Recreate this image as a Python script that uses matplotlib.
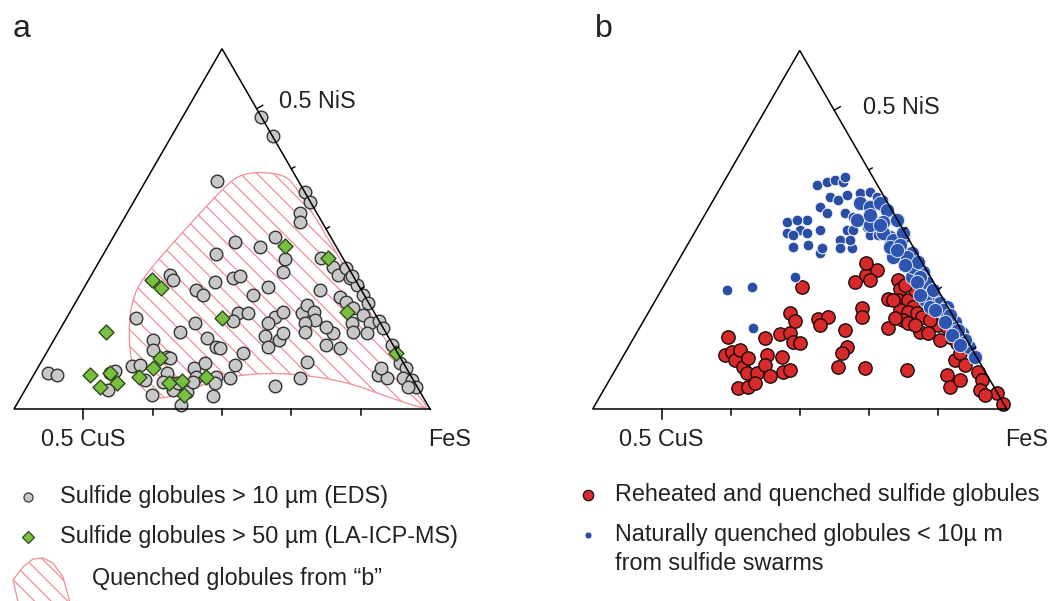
import numpy as np
import matplotlib.pyplot as plt
from matplotlib.lines import Line2D
from matplotlib.patches import Polygon

plt.rcParams['font.family'] = ['Liberation Sans', 'DejaVu Sans']
plt.rcParams['hatch.linewidth'] = 0.9

# compositions in mol% CuS and NiS, FeS is the remainder
# (a) sulfide globules > 10 um, EDS
gray_cu = [0.0, 0.0, 11.8, 0.0, 0.0, 2.5, 3.2, 8.0, 14.2, 11.0,
           17.9, 8.4, 9.7, 3.1, 2.1, 2.1, 0.3, 0.6, 0.2, 0.1,
           0.1, 3.6, 3.1, 6.0, 26.4, 26.3, 20.5, 17.5, 16.4, 13.2,
           23.8, 23.2, 16.0, 34.8, 19.7, 18.2, 21.1, 14.7, 13.1, 10.5,
           9.1, 8.7, 9.2, 2.7, 1.8, 1.5, 4.1, 0.1, 0.0, 7.7,
           8.1, 4.6, 2.8, 26.8, 29.6, 26.3, 25.6, 25.2, 22.3, 16.2,
           17.8, 18.1, 16.1, 14.9, 10.9, 11.6, 9.6, 7.9, 13.8, 34.2,
           35.0, 39.5, 38.2, 33.6, 35.0, 34.9, 30.7, 28.7, 31.0, 28.1,
           26.3, 30.2, 33.6, 35.5, 39.0, 35.4, 20.5, 16.2, 4.6, 3.7,
           3.6, 0.1, 0.5, 0.1, 1.3, 0.2, 0.1, 1.3, 52.1, 51.0,
           44.8, 24.5, 0.2, 33.3, 43.2, 42.3, 38.7, 36.3, 34.2, 31.9,
           28.9]
gray_ni = [48.7, 45.4, 37.9, 36.2, 34.5, 32.6, 31.2, 28.7, 27.8, 27.0,
           25.8, 25.0, 22.9, 25.1, 23.7, 22.3, 23.5, 21.8, 20.7, 19.0,
           17.7, 18.7, 17.9, 19.8, 22.3, 21.5, 21.1, 21.8, 22.1, 20.3,
           19.8, 19.0, 19.0, 15.1, 16.0, 16.0, 14.6, 15.4, 16.2, 16.0,
           17.3, 16.2, 14.8, 16.8, 15.7, 14.3, 14.3, 14.6, 13.5, 12.6,
           13.7, 12.9, 12.6, 14.3, 12.9, 11.8, 10.4, 10.1, 9.3, 14.3,
           12.1, 10.4, 11.5, 12.6, 14.3, 12.9, 10.7, 10.1, 7.9, 11.5,
           9.8, 7.1, 7.3, 8.7, 6.0, 4.3, 6.8, 7.6, 5.4, 5.4,
           5.1, 2.2, 2.9, 0.7, 2.3, 3.2, 3.8, 5.1, 5.7, 5.1,
           6.8, 10.7, 7.6, 6.8, 5.2, 4.8, 3.7, 3.7, 6.0, 5.7,
           3.2, 7.3, 22.1, 8.5, 6.0, 6.3, 4.8, 4.5, 4.3, 4.5,
           4.3]

# (a) sulfide globules > 50 um, LA-ICP-MS
green_cu = [7.4, 2.1, 29.4, 28.7, 22.4, 3.9, 40.3, 0.2, 34.7, 36.5,
            46.2, 43.1, 43.0, 45.8, 39.3, 35.4, 33.4, 34.3, 29.6]
green_ni = [27.1, 25.1, 21.5, 20.1, 15.1, 16.2, 12.8, 9.3, 8.5, 6.8,
            5.6, 6.0, 4.3, 3.7, 5.4, 4.4, 4.7, 2.3, 5.3]

# (a) outline of the quenched globules field from (b)
field_cu = [4.8, 1.7, 0.9, 0.5, 0.5, 0.7, 1.0, 0.0, 1.7, 5.6, 9.4, 13.7, 18.7,
            24.6, 30.0, 35.4, 38.6, 40.0, 39.5, 37.2, 33.9, 30.3, 24.7, 16.9, 10.7, 7.9]
field_ni = [39.5, 39.0, 37.7, 30.0, 20.0, 10.0, 4.0, 0.0, 0.4, 2.3, 4.3, 5.4, 6.0,
            5.7, 4.3, 2.3, 1.6, 3.7, 7.0, 12.6, 18.2, 22.0, 26.5, 32.6, 37.3, 39.0]

# (b) reheated and quenched sulfide globules
red_cu = [34.4, 36.3, 35.0, 35.3, 33.7, 34.7, 34.6, 37.2, 35.7, 33.2,
          29.1, 30.2, 31.4, 31.5, 28.2, 29.3, 28.1, 26.6, 25.1, 23.4,
          23.3, 25.4, 24.4, 19.5, 19.8, 18.2, 20.0, 16.8, 18.0, 19.2,
          20.9, 12.5, 13.3, 17.1, 11.4, 9.2, 7.2, 8.2, 10.4, 8.0,
          5.0, 5.4, 6.6, 5.2, 5.0, 7.2, 6.2, 5.0, 4.6, 7.6,
          7.1, 6.1, 11.2, 2.9, 1.8, 0.5, 2.2, 1.7, 3.4, 5.8,
          6.4, 1.1, 1.2, 2.3, 0.1, 0.1, 7.4, 3.7, 2.1, 3.3,
          2.7, 4.4, 8.6, 6.3, 5.1, 3.9, 2.4, 4.3, 2.0, 9.0,
          33.2, 34.3]
red_ni = [12.1, 9.0, 9.5, 8.2, 9.9, 7.0, 6.0, 3.5, 3.7, 6.0,
          11.9, 9.0, 7.4, 5.5, 8.7, 6.2, 6.5, 12.6, 12.7, 16.1,
          14.7, 11.2, 11.1, 20.4, 15.1, 15.4, 14.1, 13.2, 10.4, 9.4,
          7.0, 16.9, 15.4, 6.9, 21.3, 22.4, 23.3, 24.4, 13.6, 18.4,
          21.6, 20.1, 18.2, 18.2, 17.1, 16.6, 16.2, 16.1, 15.4, 14.9,
          14.4, 12.9, 6.5, 14.1, 13.7, 14.6, 12.1, 11.1, 8.2, 5.7,
          3.7, 6.2, 4.9, 3.2, 2.7, 0.9, 18.2, 14.9, 9.4, 19.9,
          18.2, 20.8, 15.2, 14.1, 12.7, 11.6, 7.4, 4.9, 2.3, 21.6,
          8.5, 4.4]

# (b) naturally quenched globules, scattered swarm
blue_cu = [8.7, 7.0, 5.7, 4.7, 4.0, 7.9, 7.0, 5.2, 3.2, 1.7,
           1.1, 0.4, 3.6, 2.7, 10.2, 9.6, 7.0, 6.2, 13.1, 15.0,
           16.2, 14.6, 17.1, 16.4, 14.2, 12.1, 8.2, 7.3, 5.0, 5.3,
           4.1, 3.0, 10.0, 8.9, 17.4, 15.1, 14.0, 13.3, 10.7, 19.6,
           26.7, 30.6, 30.0, 8.6]
blue_ni = [37.5, 38.0, 38.3, 38.0, 38.8, 35.5, 35.0, 35.8, 36.2, 36.3,
           35.5, 35.0, 34.5, 33.6, 33.8, 32.8, 32.8, 32.1, 31.6, 30.0,
           31.3, 31.6, 29.5, 29.1, 29.5, 30.0, 30.0, 30.0, 30.5, 29.1,
           29.1, 28.8, 28.3, 27.0, 27.1, 27.5, 26.1, 27.0, 27.0, 22.1,
           20.4, 19.9, 13.6, 28.3]

# (b) naturally quenched globules along the FeS-NiS join
band_cu = [4.0, 2.9, 1.1, 0.7, 5.9, 4.4, 2.3, 0.1, 2.5, 0.6,
           3.6, 0.7, 2.1, 0.7, 2.7, 1.0, 1.0, 1.0, 0.8, 2.7,
           2.6, 0.1, 0.2, 0.2, 0.3, 0.3, 3.2, 2.3, 0.3, 1.7,
           1.7, 1.5, 0.7, 0.9, 3.8, 3.4, 0.2, 0.5, 0.4, 0.6,
           1.7, 2.6, 2.7, 2.4, 3.0, 2.1, 1.7, 1.7, 1.4, 3.6,
           3.0]
band_ni = [34.5, 33.8, 34.5, 33.3, 31.6, 30.8, 31.3, 31.6, 28.8, 28.8,
           25.8, 26.1, 23.8, 22.9, 22.1, 21.1, 19.6, 18.2, 17.7, 18.2,
           17.1, 17.1, 12.7, 10.4, 8.7, 11.6, 29.5, 28.3, 29.5, 25.4,
           23.8, 22.1, 19.9, 16.6, 25.4, 27.1, 14.6, 13.2, 15.7, 24.6,
           27.5, 26.6, 24.1, 21.3, 19.1, 16.6, 14.6, 12.4, 10.7, 32.5,
           30.8]

tick_vals = [10, 20, 30, 40, 50]

W, H = 1053, 601
BASE_Y = 409          # pixel row of the FeS-CuS side, from the top
R3 = np.sqrt(3) / 2
TXT = '#222222'
PINK = '#ee8e98'


def tern(cu, ni):
    cu = np.asarray(cu, dtype=float) / 100.0
    ni = np.asarray(ni, dtype=float) / 100.0
    return 1 - cu - ni / 2, ni * R3


def chaikin(x, y, n=2):
    pts = np.column_stack([x, y])
    for _ in range(n):
        nxt = np.roll(pts, -1, axis=0)
        q = 0.75 * pts + 0.25 * nxt
        r = 0.25 * pts + 0.75 * nxt
        pts = np.column_stack([q, r]).reshape(-1, 2)
    return pts


def frame(ax, fes_px, scale, nis_off):
    pos = ax.get_position()
    x0, w = pos.x0 * W, pos.width * W
    loc = fes_px - x0
    ax.set_xlim(1 - loc / scale, 1 + (w - loc) / scale)
    ax.set_ylim(-(H - BASE_Y) / scale, BASE_Y / scale)
    ax.set_axis_off()

    tx, ty = tern([0, 60, 0, 0], [0, 0, 60, 0])
    ax.plot(tx, ty, color='k', lw=1.1, solid_joinstyle='miter', zorder=5)

    px = 1 / scale
    for v in tick_vals:
        ln = 10 if v == 50 else 6
        bx, _ = tern(v, 0)
        ax.plot([bx, bx], [0, -ln * px], color='k', lw=1.1, zorder=5)
        rx, ry = tern(0, v)
        ln = 7 if v == 50 else 4
        ax.plot([rx, rx + ln * px * 0.866], [ry, ry + ln * px * 0.5],
                color='k', lw=1.0, zorder=5)

    bx, _ = tern(50, 0)
    ax.text(bx, -31 * px, '0.5 CuS', ha='center', va='center',
            fontsize=16.8, color=TXT)
    ax.text(1 - 2 * px, -31 * px, 'FeS', ha='left', va='center',
            fontsize=16.8, color=TXT)
    rx, ry = tern(0, 50)
    ax.annotate('0.5 NiS', xy=(rx, ry), xytext=nis_off,
                textcoords='offset pixels', ha='left', va='center',
                fontsize=16.8, color=TXT)


def fxy(px, py):
    return px / W, 1 - py / H


fig = plt.figure(figsize=(W / 100, H / 100), dpi=100)
ax_a = fig.add_axes([0, 0, 0.5, 1])
ax_b = fig.add_axes([0.5, 0, 0.5, 1])

frame(ax_a, 430, 693.3, (22, 7))
frame(ax_b, 1006.7, 690.0, (29, 3))

# panel a
fx, fy = tern(field_cu, field_ni)
ring = chaikin(fx, fy)
ax_a.add_patch(Polygon(ring, closed=True, facecolor='none', edgecolor=PINK,
                       lw=0.9, hatch='\\\\', zorder=2))
gx, gy = tern(gray_cu, gray_ni)
ax_a.scatter(gx, gy, s=82, marker='o', facecolor='#c8c8c8',
             edgecolor='#333333', linewidth=1.0, zorder=3)
dx, dy = tern(green_cu, green_ni)
ax_a.scatter(dx, dy, s=58, marker='D', facecolor='#78c040',
             edgecolor='#2f4a1c', linewidth=1.0, zorder=4)

# panel b
rx, ry = tern(red_cu, red_ni)
ax_b.scatter(rx, ry, s=92, marker='o', facecolor='#d82a2a',
             edgecolor='#1a0a0a', linewidth=1.0, zorder=3)
bx, by = tern(blue_cu, blue_ni)
ax_b.scatter(bx, by, s=60, marker='o', facecolor='#2a4ea6',
             edgecolor='white', linewidth=0.7, zorder=4)
sx, sy = tern(band_cu, band_ni)
ax_b.scatter(sx, sy, s=105, marker='o', facecolor='#2d55b0',
             edgecolor='#dfe6f7', linewidth=0.7, zorder=4)

# panel letters
fig.text(*fxy(13, 37), 'a', fontsize=23, color=TXT, va='baseline')
fig.text(*fxy(595, 37), 'b', fontsize=23, color=TXT, va='baseline')

# legend of panel a
fig.add_artist(Line2D([28 / W], [1 - 497 / H], marker='o', ms=6.5,
                      mfc='#c8c8c8', mec='#3a3a3a', mew=0.9, ls='none',
                      transform=fig.transFigure))
fig.add_artist(Line2D([28 / W], [1 - 537 / H], marker='D', ms=6.5,
                      mfc='#78c040', mec='#2f4a1c', mew=0.9, ls='none',
                      transform=fig.transFigure))
fan = [(13, 580), (23, 567), (33, 559), (43, 558), (53, 563), (63, 577),
       (71, 606), (19, 606)]
fig.add_artist(Polygon([fxy(x, y) for x, y in fan], closed=True,
                       facecolor='none', edgecolor=PINK, lw=0.9,
                       hatch='\\\\', transform=fig.transFigure))
fig.text(*fxy(60, 497), 'Sulfide globules > 10 \u00b5m (EDS)',
         fontsize=16.8, color=TXT, va='center')
fig.text(*fxy(60, 537), 'Sulfide globules > 50 \u00b5m (LA-ICP-MS)',
         fontsize=16.8, color=TXT, va='center')
fig.text(*fxy(92, 578), 'Quenched globules from \u201cb\u201d',
         fontsize=16.8, color=TXT, va='center')

# legend of panel b
fig.add_artist(Line2D([588 / W], [1 - 495 / H], marker='o', ms=7.5,
                      mfc='#d82a2a', mec='#1a0a0a', mew=0.9, ls='none',
                      transform=fig.transFigure))
fig.add_artist(Line2D([588 / W], [1 - 535 / H], marker='o', ms=5,
                      mfc='#2a4ea6', mec='white', mew=0.5, ls='none',
                      transform=fig.transFigure))
fig.text(*fxy(615, 495), 'Reheated and quenched sulfide globules',
         fontsize=16.8, color=TXT, va='center')
fig.text(*fxy(615, 535), 'Naturally quenched globules < 10\u00b5 m',
         fontsize=16.8, color=TXT, va='center')
fig.text(*fxy(615, 564), 'from sulfide swarms',
         fontsize=16.8, color=TXT, va='center')

fig.savefig('out.png', dpi=100)
